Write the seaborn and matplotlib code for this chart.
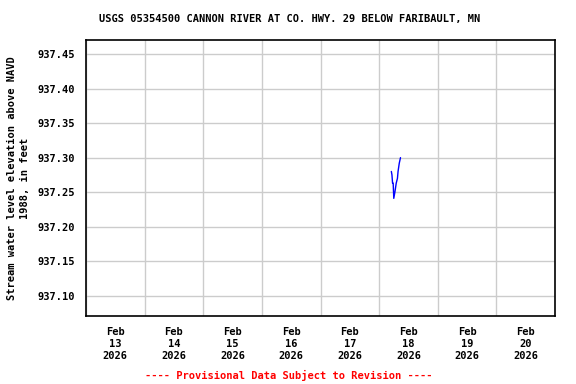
import matplotlib
matplotlib.use("Agg")
import matplotlib.pyplot as plt
import matplotlib.dates as mdates
import seaborn as sns
import pandas as pd
import numpy as np

times = ["2026-02-18 05:00", "2026-02-18 05:15", "2026-02-18 05:30", "2026-02-18 05:45",
         "2026-02-18 06:00", "2026-02-18 06:30", "2026-02-18 07:00", "2026-02-18 07:30",
         "2026-02-18 07:45", "2026-02-18 08:15", "2026-02-18 08:45"]
elev = [937.280, 937.275, 937.263, 937.263, 937.241, 937.251, 937.263, 937.270,
        937.280, 937.292, 937.300]

xtick_labels = ["Feb\n13\n2026", "Feb\n14\n2026", "Feb\n15\n2026", "Feb\n16\n2026",
                "Feb\n17\n2026", "Feb\n18\n2026", "Feb\n19\n2026", "Feb\n20\n2026"]
ytick_vals = [937.10, 937.15, 937.20, 937.25, 937.30, 937.35, 937.40, 937.45]

df = pd.DataFrame({"time": pd.to_datetime(times), "elev": elev})

sns.set_style("white")
plt.rcParams["font.family"] = ["DejaVu Sans Mono"]
plt.rcParams["font.weight"] = "bold"
plt.rcParams["text.color"] = "black"
plt.rcParams["axes.labelcolor"] = "black"
plt.rcParams["xtick.color"] = "black"
plt.rcParams["ytick.color"] = "black"

fig = plt.figure(figsize=(5.76, 3.84), dpi=100)
ax = fig.add_axes([86/576, 1-316/384, (555-86)/576, (316-40)/384])

sns.lineplot(data=df, x="time", y="elev", ax=ax, color="#0000ff", linewidth=1.0)

start = pd.Timestamp("2026-02-13")
end = pd.Timestamp("2026-02-21")
ax.set_xlim(start, end)
ax.set_ylim(937.0705, 937.4705)

day_edges = pd.date_range(start, end, freq="D")
noons = day_edges[:-1] + pd.Timedelta(hours=12)
ax.set_xticks(mdates.date2num(day_edges), minor=True)
ax.set_xticks(mdates.date2num(noons))
ax.set_xticklabels(xtick_labels, fontsize=7.5, fontweight="bold", linespacing=1.25, color="black")
ax.set_yticks(ytick_vals)
ax.set_yticklabels([f"{v:.2f}" for v in ytick_vals], fontsize=7.5, fontweight="bold", color="black")

ax.grid(False)
ax.grid(True, which="minor", axis="x", color="#cccccc", linewidth=1)
ax.grid(True, which="major", axis="y", color="#cccccc", linewidth=1)
ax.tick_params(axis="x", which="both", length=0, pad=8)
ax.tick_params(axis="y", which="both", length=0, pad=8)
for s in ax.spines.values():
    s.set_color("black")
    s.set_linewidth(1.2)

ax.set_xlabel("")
ax.set_ylabel("Stream water level elevation above NAVD\n1988, in feet",
              fontsize=7.5, fontweight="bold", linespacing=1.4, labelpad=5, color="black")

fig.text(289.5/576, 1-19/384, "USGS 05354500 CANNON RIVER AT CO. HWY. 29 BELOW FARIBAULT, MN",
         ha="center", va="center", fontsize=7.5, fontweight="bold", color="black")
fig.text(289/576, 1-375/384, "---- Provisional Data Subject to Revision ----",
         ha="center", va="center", fontsize=7.5, fontweight="bold", color="red")

fig.savefig("out.png", dpi=100)
